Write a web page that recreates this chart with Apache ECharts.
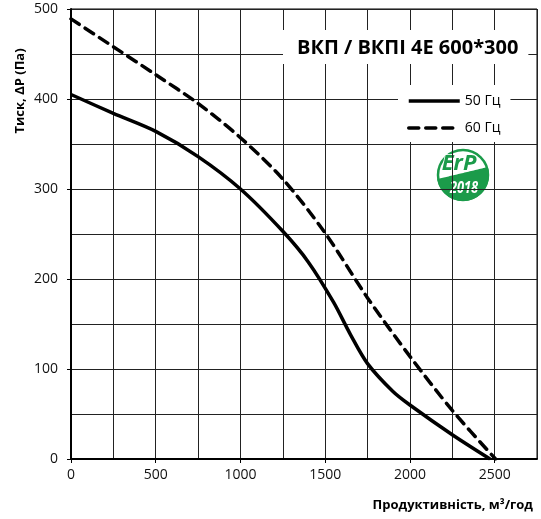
<!DOCTYPE html>
<html>
<head>
<meta charset="utf-8">
<script src="https://cdn.jsdelivr.net/npm/echarts@6/dist/echarts.min.js"></script>
<style>html,body{margin:0;padding:0;background:#fff}#c{width:541px;height:519px}</style>
</head>
<body>
<div id="c"></div>
<script>
// ---- data ----
const flow50 = [0, 250, 500, 750, 1000, 1250, 1400, 1550, 1650, 1750, 1900, 2000, 2250, 2473];
const press50 = [405, 384, 364, 336, 300, 253, 219, 174, 138, 106, 75, 60, 27, 0];
const flow60 = [0, 250, 500, 750, 1000, 1250, 1500, 1750, 2000, 2250, 2505];
const press60 = [489, 458, 427, 395, 357, 311, 251, 179, 114, 54, 0];
const xTicks = [0, 500, 1000, 1500, 2000, 2500];
const yTicks = [0, 100, 200, 300, 400, 500];
const seriesNames = ['50 Гц', '60 Гц'];
const titleText = 'ВКП / ВКПІ 4Е 600*300';
const xTitle = 'Продуктивність, м³/год';
const yTitle = 'Тиск, ΔР (Па)';

const FONT = '"Open Sans", "DejaVu Sans", sans-serif';
const green = '#1b9b4a';

// logo leaf shape (decorative badge outline)
function leafPoints() {
  const r = 26, pts = [];
  const a0 = Math.atan2(-8, 24.7), a1 = Math.atan2(4, -25.7);
  const n = 40;
  for (let i = 0; i <= n; i++) {
    const a = a0 + (a1 - a0) * i / n;
    pts.push([r * Math.cos(a), r * Math.sin(a)]);
  }
  const p0 = [-25.7, 4], c = [-4, -1], p2 = [24.7, -8];
  for (let i = 1; i < n; i++) {
    const t = i / n;
    pts.push([
      (1 - t) * (1 - t) * p0[0] + 2 * (1 - t) * t * c[0] + t * t * p2[0],
      (1 - t) * (1 - t) * p0[1] + 2 * (1 - t) * t * c[1] + t * t * p2[1]
    ]);
  }
  return pts;
}

const gridAxisX = {
  type: 'value', min: 0, max: 2750, interval: 250,
  axisLine: {show: false}, axisTick: {show: false}, axisLabel: {show: false},
  splitLine: {show: true, lineStyle: {color: '#222', width: 1}}
};
const gridAxisY = {
  type: 'value', min: 0, max: 500, interval: 50,
  axisLine: {show: false}, axisTick: {show: false}, axisLabel: {show: false},
  splitLine: {show: true, lineStyle: {color: '#222', width: 1}}
};

const chart = echarts.init(document.getElementById('c'), null, {renderer: 'canvas'});
chart.setOption({
  animation: false,
  backgroundColor: '#fff',
  grid: {left: 71, top: 9, right: 4, bottom: 60, show: true, borderColor: '#000', borderWidth: 1},
  title: {
    text: titleText, left: 283, top: 30, backgroundColor: '#fff',
    padding: [8, 10, 6, 14],
    textStyle: {fontSize: 20, fontWeight: 'bold', fontFamily: FONT, color: '#000'}
  },
  legend: {
    data: seriesNames, orient: 'vertical', left: 398, top: 85,
    itemWidth: 51, itemHeight: 14, itemGap: 13,
    padding: [9, 10, 7, 9], backgroundColor: '#fff',
    itemStyle: {opacity: 0},
    lineStyle: {width: 3.5},
    textStyle: {fontSize: 14, fontFamily: FONT, color: '#000'}
  },
  xAxis: [{
    type: 'value', min: 0, max: 2750, interval: 250,
    axisLine: {show: true, onZero: false, lineStyle: {color: '#000', width: 2}},
    axisTick: {show: true, customValues: xTicks, length: 4, lineStyle: {color: '#000'}},
    axisLabel: {customValues: xTicks, fontSize: 14, fontFamily: FONT, color: '#111', margin: 9, formatter: v => String(v)},
    splitLine: {show: false}
  }, gridAxisX],
  yAxis: [{
    type: 'value', min: 0, max: 500, interval: 50,
    axisLine: {show: true, onZero: false, lineStyle: {color: '#000', width: 2}},
    axisTick: {show: true, customValues: yTicks, length: 4, lineStyle: {color: '#000'}},
    axisLabel: {customValues: yTicks, fontSize: 14, fontFamily: FONT, color: '#111', margin: 13, formatter: v => String(v)},
    splitLine: {show: false}
  }, gridAxisY],
  series: [
    {
      name: seriesNames[0], type: 'line', symbol: 'none', smooth: 0.3,
      xAxisIndex: 0, yAxisIndex: 0,
      data: flow50.map((f, i) => [f, press50[i]]),
      lineStyle: {color: '#000', width: 3.5}, itemStyle: {color: '#000'}, z: 5
    },
    {
      name: seriesNames[1], type: 'line', symbol: 'none', smooth: 0.3,
      xAxisIndex: 0, yAxisIndex: 0,
      data: flow60.map((f, i) => [f, press60[i]]),
      lineStyle: {color: '#000', width: 3.5, type: [10, 7], cap: 'round'}, itemStyle: {color: '#000'}, z: 5
    }
  ],
  graphic: [
    {
      type: 'text', x: 20, y: 91, rotation: Math.PI / 2, z: 100,
      style: {text: yTitle, fontSize: 13, fontWeight: 'bold', fontFamily: FONT, fill: '#000', align: 'center', verticalAlign: 'middle'}
    },
    {
      type: 'text', x: 533, y: 505, z: 100,
      style: {text: xTitle, fontSize: 13, fontWeight: 'bold', fontFamily: FONT, fill: '#000', align: 'right', verticalAlign: 'middle'}
    },
    {
      type: 'group', x: 463, y: 175, z: 100,
      children: [
        {type: 'circle', shape: {cx: 0, cy: 0, r: 29}, style: {fill: '#fff'}},
        {type: 'circle', shape: {cx: 0, cy: 0, r: 25}, style: {fill: 'none', stroke: green, lineWidth: 2.5}},
        {type: 'polygon', shape: {points: leafPoints()}, style: {fill: green}},
        {type: 'text', x: -4, y: -11, style: {text: 'ErP', fontSize: 22, fontWeight: 'bold', fontStyle: 'italic', fontFamily: FONT, fill: green, stroke: '#fff', lineWidth: 1.5, align: 'center', verticalAlign: 'middle'}},
        {type: 'text', x: 1, y: 13, scaleX: 0.8, style: {text: '2018', fontSize: 16, fontWeight: 'bold', fontStyle: 'italic', fontFamily: FONT, fill: '#fff', align: 'center', verticalAlign: 'middle'}}
      ]
    }
  ]
});
</script>
</body>
</html>
